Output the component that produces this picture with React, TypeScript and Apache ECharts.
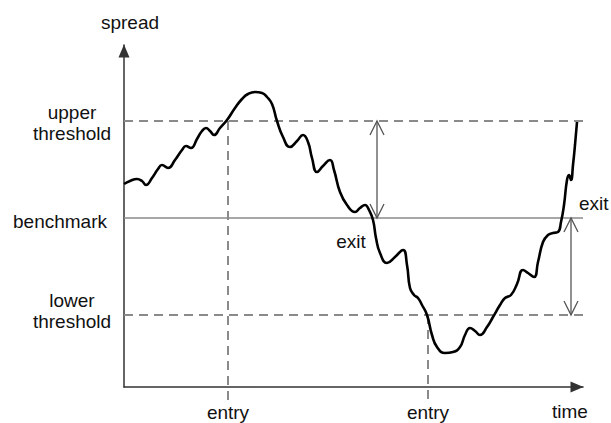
import React, { useEffect, useRef } from "react";
import * as echarts from "echarts";

// Schematic pair-trading spread path (arbitrary units)
const time = [0, 6, 13, 18, 22, 28, 34, 38, 44, 51, 58, 62, 67, 73, 78, 82, 86, 90, 96, 103, 111, 118, 124, 131, 138, 143, 148, 153, 159, 166, 173, 179, 184, 188, 193, 199, 206, 210, 216, 223, 231, 236, 241, 245, 249, 252, 256, 263, 271, 279, 283, 286, 290, 294, 298, 303, 308, 313, 321, 329, 336, 341, 346, 351, 356, 363, 369, 376, 381, 387, 393, 399, 404, 410, 414, 419, 424, 429, 434, 437, 440, 443, 445, 447, 449, 451, 453];
const spread = [203, 206, 208, 206, 202, 209, 218, 222, 219, 227, 237, 241, 239, 248, 256, 259, 256, 252, 259, 267, 279, 288, 293, 295, 294, 290, 283, 266, 250, 240, 246, 252, 245, 229, 215, 221, 227, 217, 195, 182, 175, 179, 182, 177, 167, 149, 134, 124, 130, 137, 122, 99, 92, 89, 82, 72, 52, 40, 34, 35, 40, 52, 59, 56, 52, 60, 70, 82, 89, 92, 103, 117, 114, 110, 125, 145, 152, 154, 155, 165, 182, 207, 212, 207, 222, 242, 265];

const upperThreshold = 266;
const benchmark = 169;
const lowerThreshold = 72;
const entryTimes = [104, 304];
const exitArrowTimes = [253, 447];
const TIME_MAX = 459;
const SPREAD_MAX = 342;

export default function App() {
  const ref = useRef<HTMLDivElement>(null);

  useEffect(() => {
    const chart = echarts.init(ref.current!, null, { renderer: "svg" });
    const font = '19px "Liberation Sans", Arial, sans-serif';
    const txt = "#111";
    const guide = "#8a8a8a";
    const arrowCol = "#555";

    const renderItem = (_params: any, api: any) => {
      const c = (t: number, s: number) => api.coord([t, s]);
      const children: any[] = [];
      const hline = (s: number, dashed: boolean) => {
        const a = c(0, s);
        const b = c(TIME_MAX, s);
        children.push({
          type: "line",
          shape: { x1: a[0], y1: a[1], x2: b[0], y2: b[1] },
          style: { stroke: guide, lineWidth: dashed ? 2 : 1.6, lineDash: dashed ? [9, 6] : null },
        });
      };
      hline(upperThreshold, true);
      hline(lowerThreshold, true);
      hline(benchmark, false);

      const vline = (t: number, from: number) => {
        const a = c(t, from);
        const b = c(t, 0);
        children.push({
          type: "line",
          shape: { x1: a[0], y1: a[1], x2: b[0], y2: b[1] + 15 },
          style: { stroke: guide, lineWidth: 2, lineDash: [9, 6] },
        });
      };
      vline(entryTimes[0], upperThreshold);
      vline(entryTimes[1], lowerThreshold);

      const dblArrow = (t: number, top: number, bottom: number) => {
        const a = c(t, top);
        const b = c(t, bottom);
        children.push({
          type: "line",
          shape: { x1: a[0], y1: a[1], x2: b[0], y2: b[1] },
          style: { stroke: arrowCol, lineWidth: 1.3 },
        });
        children.push({
          type: "polyline",
          shape: { points: [[a[0] - 7, a[1] + 14], [a[0], a[1]], [a[0] + 7, a[1] + 14]] },
          style: { stroke: arrowCol, lineWidth: 1.3, fill: "none" },
        });
        children.push({
          type: "polyline",
          shape: { points: [[b[0] - 7, b[1] - 14], [b[0], b[1]], [b[0] + 7, b[1] - 14]] },
          style: { stroke: arrowCol, lineWidth: 1.3, fill: "none" },
        });
      };
      dblArrow(exitArrowTimes[0], upperThreshold, benchmark);
      dblArrow(exitArrowTimes[1], benchmark, lowerThreshold);

      const text = (s: string, x: number, y: number, align = "center") => {
        children.push({
          type: "text",
          x,
          y,
          style: { text: s, fill: txt, font, textAlign: align, textVerticalAlign: "middle" },
        });
      };
      const org = c(0, 0);
      const top = c(0, SPREAD_MAX);
      const up = c(0, upperThreshold);
      const bm = c(0, benchmark);
      const lo = c(0, lowerThreshold);
      text("spread", top[0] + 6, top[1] - 23);
      text("upper", org[0] - 52, up[1] - 9);
      text("threshold", org[0] - 52, up[1] + 12);
      text("benchmark", org[0] - 17, bm[1] + 3, "right");
      text("lower", org[0] - 52, lo[1] - 15);
      text("threshold", org[0] - 52, lo[1] + 6);
      const ex1 = c(exitArrowTimes[0], benchmark);
      text("exit", ex1[0] - 26, ex1[1] + 23);
      const ex2 = c(TIME_MAX, benchmark);
      text("exit", ex2[0] - 4, ex2[1] - 15, "left");
      const e1 = c(entryTimes[0], 0);
      const e2 = c(entryTimes[1], 0);
      text("entry", e1[0], e1[1] + 25);
      text("entry", e2[0], e2[1] + 25);
      const tm = c(TIME_MAX, 0);
      text("time", tm[0] - 13, tm[1] + 24);

      return { type: "group", children };
    };

    const axisLine = {
      show: true,
      onZero: false,
      lineStyle: { color: "#333", width: 1.5 },
      symbol: ["none", "triangle"],
      symbolSize: [11, 13],
      symbolOffset: [0, -6],
    };

    chart.setOption({
      animation: false,
      grid: { left: 124, right: 28, top: 45, bottom: 36 },
      xAxis: {
        type: "value",
        min: 0,
        max: TIME_MAX,
        axisLine,
        axisTick: { show: false },
        axisLabel: { show: false },
        splitLine: { show: false },
      },
      yAxis: {
        type: "value",
        min: 0,
        max: SPREAD_MAX,
        axisLine,
        axisTick: { show: false },
        axisLabel: { show: false },
        splitLine: { show: false },
      },
      series: [
        {
          type: "custom",
          z: 1,
          silent: true,
          clip: false,
          data: [0],
          renderItem,
        },
        {
          type: "line",
          z: 3,
          data: time.map((t, i) => [t, spread[i]]),
          smooth: 0.5,
          showSymbol: false,
          symbol: "none",
          lineStyle: { color: "#000", width: 2.6 },
        },
      ],
    });

    return () => chart.dispose();
  }, []);

  return (
    <div
      ref={ref}
      style={{ position: "fixed", left: 0, top: 0, width: 611, height: 423, background: "#fff" }}
    />
  );
}
